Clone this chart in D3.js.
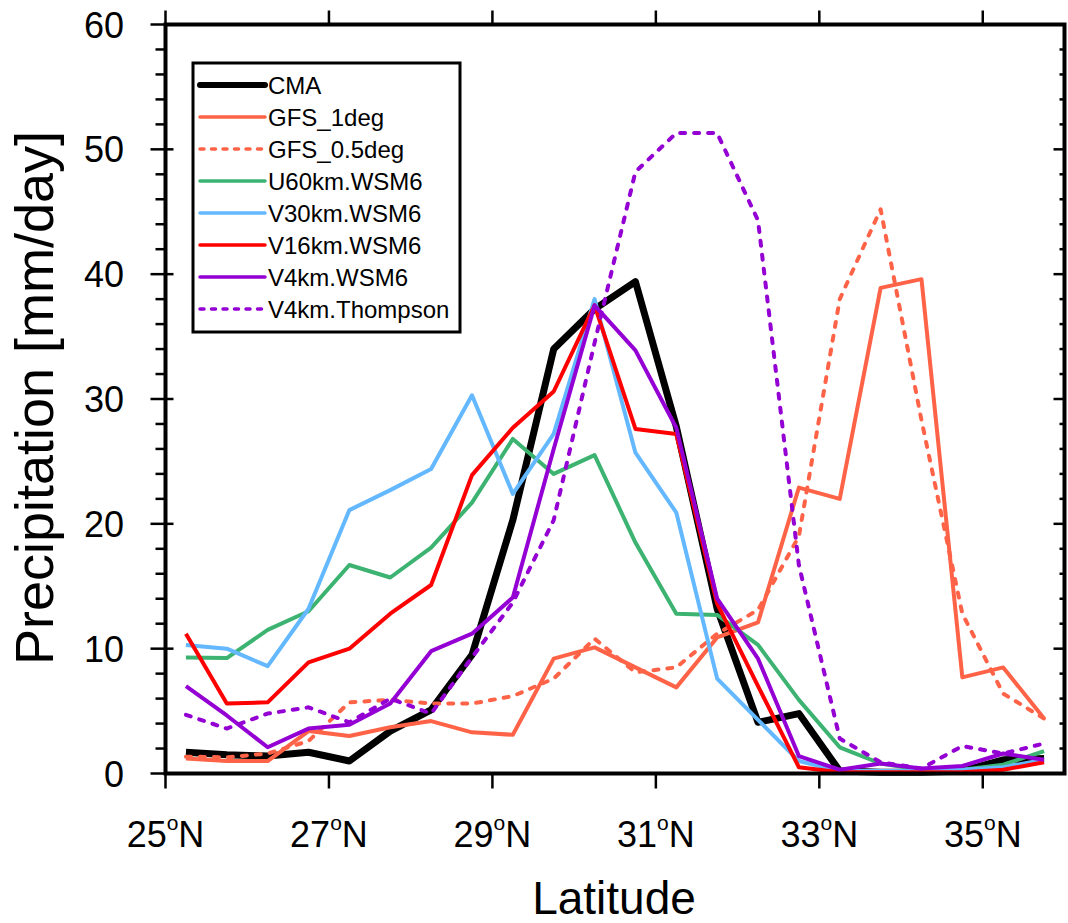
<!DOCTYPE html>
<html>
<head>
<meta charset="utf-8">
<script src="https://cdn.jsdelivr.net/npm/d3@7"></script>
<style>
  body { margin: 0; background: #fff; }
  svg { font-family: "Liberation Sans", Arial, Helvetica, sans-serif; }
</style>
</head>
<body>
<div id="chart"></div>
<script>
// Latitudes of the zonal-mean points (every 0.5 deg)
const lats = [25.25, 25.75, 26.25, 26.75, 27.25, 27.75, 28.25, 28.75, 29.25, 29.75, 30.25,
              30.75, 31.25, 31.75, 32.25, 32.75, 33.25, 33.75, 34.25, 34.75, 35.25, 35.75];

// Precipitation (mm/day) per run
const cma       = [1.7, 1.5, 1.4, 1.7, 1.0, 3.4, 5.1, 9.5, 20.3, 34.0, 37.2, 39.4, 27.8, 13.2, 4.1, 4.8, 0.2, 0.1, 0.1, 0.2, 1.1, 1.2];
const gfs1deg   = [1.2, 1.0, 1.0, 3.4, 3.0, 3.7, 4.2, 3.3, 3.1, 9.2, 10.1, 8.5, 6.9, 10.9, 12.1, 22.9, 22.0, 38.9, 39.6, 7.7, 8.5, 4.4];
const gfs05deg  = [1.35, 1.3, 1.6, 2.6, 5.7, 5.9, 5.6, 5.6, 6.2, 7.6, 10.8, 8.1, 8.5, 11.2, 13.1, 19.0, 38.0, 45.2, 28.3, 12.8, 6.4, 4.4];
const u60wsm6   = [9.3, 9.25, 11.5, 13.0, 16.7, 15.7, 18.1, 21.7, 26.8, 24.0, 25.5, 18.5, 12.8, 12.7, 10.3, 5.9, 2.1, 0.8, 0.3, 0.3, 0.7, 1.8];
const v30wsm6   = [10.3, 10.0, 8.6, 13.2, 21.1, 22.7, 24.4, 30.3, 22.4, 27.2, 38.0, 25.7, 20.9, 7.6, 4.3, 1.0, 0.2, 0.2, 0.2, 0.3, 0.5, 1.1];
const v16wsm6   = [11.2, 5.6, 5.7, 8.9, 10.0, 12.8, 15.1, 23.9, 27.7, 30.6, 37.5, 27.6, 27.2, 13.6, 7.0, 0.5, 0.1, 0.1, 0.1, 0.1, 0.3, 0.9];
const v4wsm6    = [7.0, 4.65, 2.1, 3.6, 3.9, 5.6, 9.8, 11.2, 14.1, 26.0, 37.5, 33.9, 27.7, 14.0, 9.2, 1.4, 0.3, 0.8, 0.4, 0.6, 1.6, 1.1];
const v4thomp   = [4.7, 3.6, 4.8, 5.3, 4.1, 6.0, 4.8, 9.3, 13.7, 20.3, 34.5, 48.2, 51.3, 51.3, 44.3, 16.7, 2.8, 0.9, 0.4, 2.2, 1.6, 2.4];

const seriesNames = ["CMA", "GFS_1deg", "GFS_0.5deg", "U60km.WSM6", "V30km.WSM6", "V16km.WSM6", "V4km.WSM6", "V4km.Thompson"];
const seriesValues = [cma, gfs1deg, gfs05deg, u60wsm6, v30wsm6, v16wsm6, v4wsm6, v4thomp];

const xTicks = [25, 27, 29, 31, 33, 35];
const yTicks = [0, 10, 20, 30, 40, 50, 60];
const yMinorTicks = d3.range(0, 61, 2).filter(d => d % 10 !== 0);

// line styles
const colors = ["#000000", "#ff6347", "#ff6347", "#3cb371", "#63b8ff", "#ff0000", "#9400d3", "#9400d3"];
const widths = [7, 4, 4, 4, 4, 4, 4, 4];
const dashed = [false, false, true, false, false, false, false, true];

const width = 1068, height = 923;
const plotL = 165.5, plotR = 1064.5, plotT = 24.5, plotB = 773.5;

const svg = d3.select("#chart").append("svg")
  .attr("width", width)
  .attr("height", height);

const x = d3.scaleLinear().domain([25, 36]).range([plotL, plotR]);
const y = d3.scaleLinear().domain([0, 60]).range([plotB, plotT]);

// lines
const line = d3.line().x((d, i) => x(lats[i])).y(d => y(d));

seriesValues.forEach((vals, k) => {
  svg.append("path")
    .datum(vals)
    .attr("d", line)
    .attr("fill", "none")
    .attr("stroke", colors[k])
    .attr("stroke-width", widths[k])
    .attr("stroke-linejoin", "round")
    .attr("stroke-linecap", dashed[k] ? "round" : "butt")
    .attr("stroke-dasharray", dashed[k] ? "5,9" : null);
});

// frame
svg.append("rect")
  .attr("x", plotL).attr("y", plotT)
  .attr("width", plotR - plotL).attr("height", plotB - plotT)
  .attr("fill", "none").attr("stroke", "#000").attr("stroke-width", 4);

const tickG = svg.append("g").attr("stroke", "#000").attr("stroke-width", 2.5);

// left: major cross the axis, minor outward
tickG.selectAll(".ylmaj").data(yTicks).enter().append("line")
  .attr("x1", plotL - 15).attr("x2", plotL + 8)
  .attr("y1", d => y(d)).attr("y2", d => y(d));
tickG.selectAll(".ylmin").data(yMinorTicks).enter().append("line")
  .attr("x1", plotL - 10).attr("x2", plotL)
  .attr("y1", d => y(d)).attr("y2", d => y(d));
// right: inward
tickG.selectAll(".yrmaj").data(yTicks).enter().append("line")
  .attr("x1", plotR - 11).attr("x2", plotR)
  .attr("y1", d => y(d)).attr("y2", d => y(d));
tickG.selectAll(".yrmin").data(yMinorTicks).enter().append("line")
  .attr("x1", plotR - 5).attr("x2", plotR)
  .attr("y1", d => y(d)).attr("y2", d => y(d));
// bottom & top: outward
tickG.selectAll(".xb").data(xTicks).enter().append("line")
  .attr("x1", d => x(d)).attr("x2", d => x(d))
  .attr("y1", plotB).attr("y2", plotB + 15);
tickG.selectAll(".xt").data(xTicks).enter().append("line")
  .attr("x1", d => x(d)).attr("x2", d => x(d))
  .attr("y1", plotT).attr("y2", plotT - 14);

// y tick labels
svg.selectAll(".ylab").data(yTicks).enter().append("text")
  .attr("x", 124)
  .attr("y", d => y(d) + 13)
  .attr("text-anchor", "end")
  .attr("font-size", 36)
  .text(d => d);

// x tick labels with degree superscript
const xl = svg.selectAll(".xlab").data(xTicks).enter().append("text")
  .attr("x", d => x(d))
  .attr("y", 847)
  .attr("text-anchor", "middle")
  .attr("font-size", 36);
xl.append("tspan").text(d => d);
xl.append("tspan").attr("font-size", 21).attr("dy", -17).text("o");
xl.append("tspan").attr("dy", 17).text("N");

// axis titles
svg.append("text")
  .attr("x", 614).attr("y", 914)
  .attr("text-anchor", "middle")
  .attr("font-size", 46)
  .text("Latitude");

svg.append("text")
  .attr("transform", "translate(53,398) rotate(-90)")
  .attr("text-anchor", "middle")
  .attr("font-size", 54)
  .text("Precipitation [mm/day]");

// legend
const legend = svg.append("g");
legend.append("rect")
  .attr("x", 193).attr("y", 63)
  .attr("width", 267).attr("height", 269)
  .attr("fill", "#fff").attr("stroke", "#000").attr("stroke-width", 3);

seriesNames.forEach((name, k) => {
  const ly = 85 + k * 32;
  legend.append("line")
    .attr("x1", 200).attr("x2", 265)
    .attr("y1", ly).attr("y2", ly)
    .attr("stroke", colors[k])
    .attr("stroke-width", k === 0 ? 6 : 3.5)
    .attr("stroke-linecap", "round")
    .attr("stroke-dasharray", dashed[k] ? "4,7.5" : null);
  legend.append("text")
    .attr("x", 268).attr("y", ly + 8.5)
    .attr("font-size", 24)
    .text(name);
});
</script>
</body>
</html>
